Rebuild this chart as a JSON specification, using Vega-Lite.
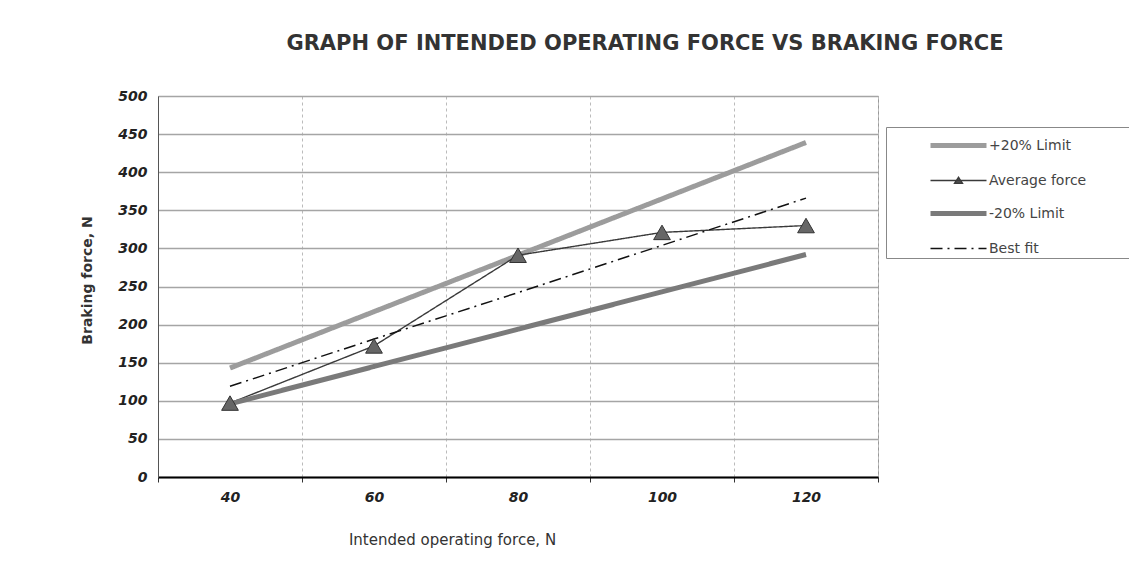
{
  "$schema": "https://vega.github.io/schema/vega-lite/v6.json",
  "width": 720,
  "height": 381,
  "autosize": {"type": "none"},
  "padding": {"left": 158, "top": 96, "right": 251, "bottom": 110},
  "background": "white",
  "title": {
    "text": "GRAPH OF INTENDED OPERATING FORCE VS BRAKING FORCE",
    "anchor": "middle",
    "dx": 127,
    "offset": 18,
    "baseline": "alphabetic",
    "font": "DejaVu Sans",
    "fontSize": 21,
    "fontWeight": "bold",
    "color": "#333333"
  },
  "data": {
    "values": [
      {"force": 40, "braking": 143, "series": "+20% Limit"},
      {"force": 60, "braking": 217, "series": "+20% Limit"},
      {"force": 80, "braking": 291, "series": "+20% Limit"},
      {"force": 100, "braking": 365, "series": "+20% Limit"},
      {"force": 120, "braking": 439, "series": "+20% Limit"},
      {"force": 40, "braking": 97, "series": "Average force"},
      {"force": 60, "braking": 172, "series": "Average force"},
      {"force": 80, "braking": 291, "series": "Average force"},
      {"force": 100, "braking": 321, "series": "Average force"},
      {"force": 120, "braking": 330, "series": "Average force"},
      {"force": 40, "braking": 96, "series": "-20% Limit"},
      {"force": 60, "braking": 145, "series": "-20% Limit"},
      {"force": 80, "braking": 194, "series": "-20% Limit"},
      {"force": 100, "braking": 243, "series": "-20% Limit"},
      {"force": 120, "braking": 292, "series": "-20% Limit"},
      {"force": 40, "braking": 119, "series": "Best fit"},
      {"force": 60, "braking": 181, "series": "Best fit"},
      {"force": 80, "braking": 242, "series": "Best fit"},
      {"force": 100, "braking": 304, "series": "Best fit"},
      {"force": 120, "braking": 366, "series": "Best fit"}
    ]
  },
  "encoding": {
    "x": {
      "field": "force",
      "type": "ordinal",
      "scale": {"type": "band", "paddingInner": 0, "paddingOuter": 0},
      "axis": {
        "title": "Intended operating force, N",
        "labelAngle": 0,
        "labelFont": "DejaVu Sans",
        "labelFontSize": 14,
        "labelFontStyle": "italic",
        "labelFontWeight": "bold",
        "labelColor": "#222222",
        "labelPadding": 8,
        "tickBand": "extent",
        "ticks": true,
        "tickSize": 5,
        "tickColor": "#333333",
        "grid": true,
        "gridColor": "#bbbbbb",
        "gridDash": [3, 3],
        "gridWidth": 1,
        "domainColor": "#000000",
        "domainWidth": 2,
        "titleFont": "DejaVu Sans",
        "titleFontSize": 15,
        "titleFontWeight": "normal",
        "titleColor": "#333333",
        "titleX": 294,
        "titleY": 62,
        "titleBaseline": "middle"
      }
    },
    "y": {
      "field": "braking",
      "type": "quantitative",
      "scale": {"domain": [0, 500], "nice": false},
      "axis": {
        "title": "Braking force, N",
        "values": [0, 50, 100, 150, 200, 250, 300, 350, 400, 450, 500],
        "labelFont": "DejaVu Sans",
        "labelFontSize": 14,
        "labelFontStyle": "italic",
        "labelFontWeight": "bold",
        "labelColor": "#222222",
        "labelPadding": 11,
        "ticks": false,
        "grid": true,
        "gridColor": "#a5a5a5",
        "gridWidth": 1.5,
        "domainColor": "#555555",
        "domainWidth": 1,
        "titleFont": "DejaVu Sans",
        "titleFontSize": 14,
        "titleFontWeight": "bold",
        "titleColor": "#333333",
        "titleX": -71,
        "titleY": 184,
        "titleBaseline": "middle"
      }
    }
  },
  "layer": [
    {
      "mark": {"type": "line"},
      "encoding": {
        "color": {
          "field": "series",
          "type": "nominal",
          "scale": {
            "domain": ["+20% Limit", "Average force", "-20% Limit", "Best fit"],
            "range": ["#9c9c9c", "#3a3a3a", "#7a7a7a", "#111111"]
          },
          "legend": {
            "title": null,
            "labelExpr": "datum.label + '\u2800\u2800\u2800\u2800'",
            "encode": {
              "symbols": {
                "update": {
                  "shape": {"signal": "datum.value === 'Average force' ? 'M-1,0H3M0.72,0.2L1,-0.23L1.28,0.2Z' : 'M-1,0H3'"},
                  "fill": {"signal": "datum.value === 'Average force' ? '#555555' : 'transparent'"}
                }
              }
            }
          }
        },
        "strokeWidth": {
          "field": "series",
          "type": "nominal",
          "scale": {
            "type": "ordinal",
            "domain": ["+20% Limit", "Average force", "-20% Limit", "Best fit"],
            "range": [5, 1.4, 5, 1.5]
          },
          "legend": {"title": null}
        },
        "strokeDash": {
          "field": "series",
          "type": "nominal",
          "scale": {
            "domain": ["+20% Limit", "Average force", "-20% Limit", "Best fit"],
            "range": [[1, 0], [1, 0], [1, 0], [12, 5, 2, 5]]
          },
          "legend": {"title": null}
        }
      }
    },
    {
      "transform": [{"filter": "datum.series === 'Average force'"}],
      "mark": {
        "type": "point",
        "shape": "triangle-up",
        "filled": true,
        "size": 280,
        "fill": "#666666",
        "stroke": "#333333",
        "strokeWidth": 1,
        "opacity": 1
      }
    }
  ],
  "config": {
    "view": {"stroke": "#999999", "strokeWidth": 1},
    "legend": {
      "orient": "none",
      "legendX": 728,
      "legendY": 31,
      "strokeColor": "#888888",
      "fillColor": "white",
      "padding": 2,
      "labelFont": "DejaVu Sans",
      "labelFontSize": 14,
      "labelColor": "#444444",
      "labelLimit": 300,
      "symbolType": "M-1,0H3",
      "symbolSize": 784,
      "symbolOffset": 40,
      "labelOffset": 28,
      "rowPadding": 9.5
    }
  }
}
